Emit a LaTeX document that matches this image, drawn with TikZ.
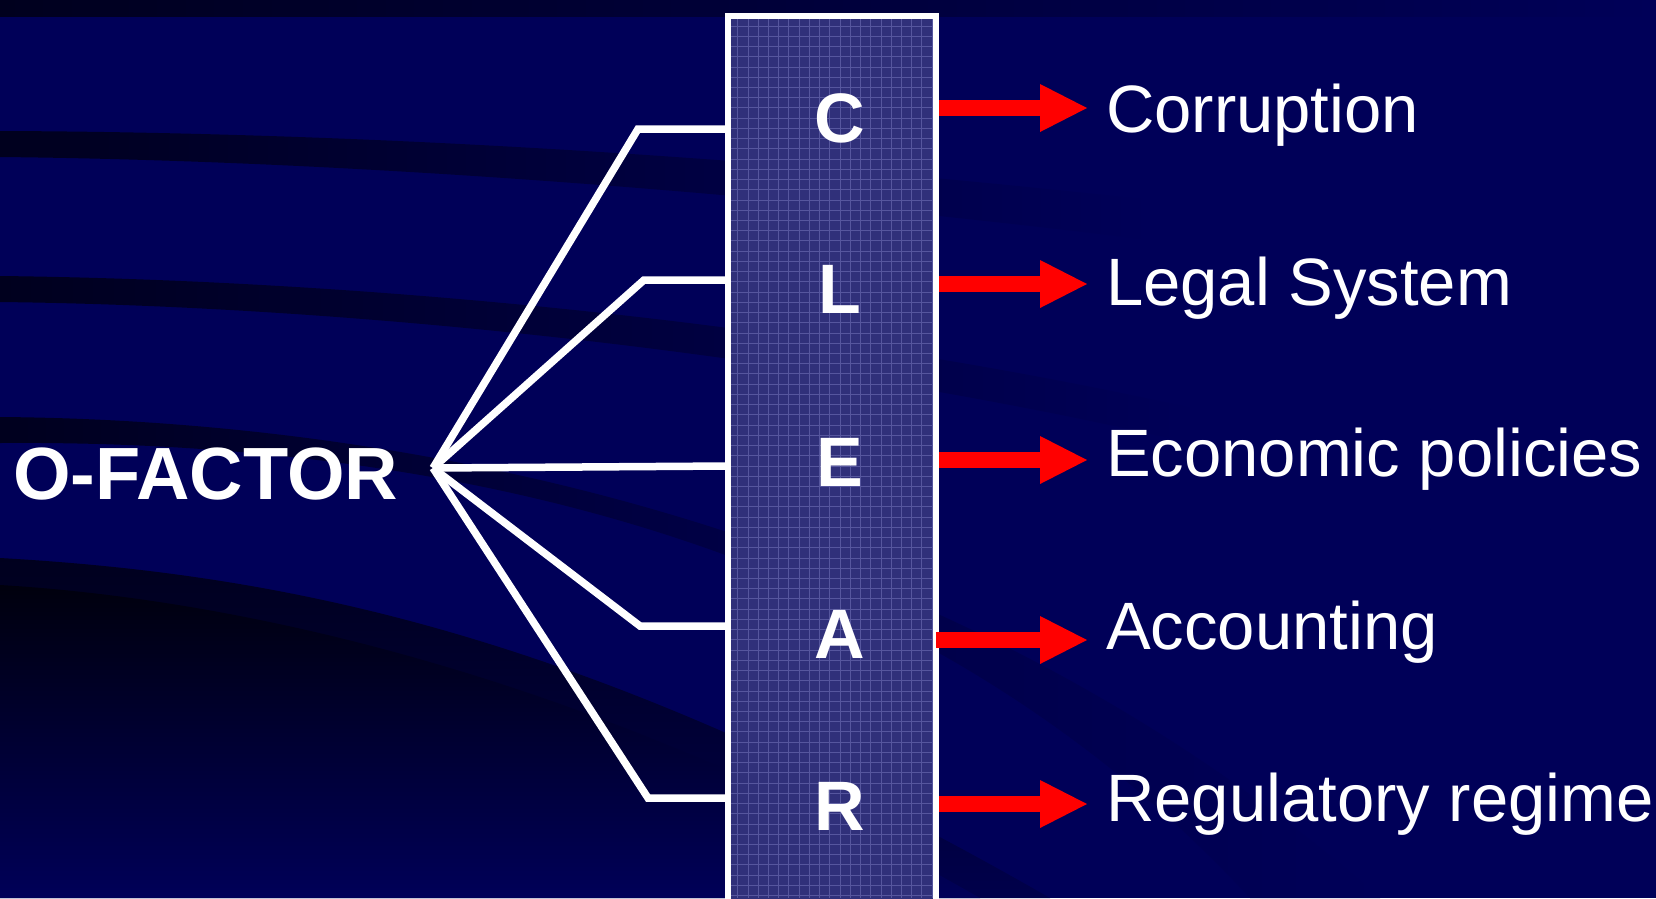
\documentclass[tikz,border=0pt]{standalone}
\usepackage{fontspec}
\setmainfont{Liberation Sans}
\usepackage{xcolor}
\usepackage{tikz}
\usetikzlibrary{calc, arrows.meta}

\definecolor{navy}{RGB}{0,0,88}
\definecolor{deepnavy}{RGB}{0,0,30}
\definecolor{boxfill}{RGB}{48,48,122}
\definecolor{gridline}{RGB}{86,86,158}

\begin{document}
\begin{tikzpicture}[x=1pt, y=-1pt,
		wire/.style={white, line width=7.5pt, line join=miter},
		redarrow/.style={red, line width=16pt, shorten >=19pt, -{Triangle[length=47pt, width=48pt, line width=0pt]}},
		lettertext/.style={anchor=base, inner sep=0pt, text=white, font=\fontsize{70}{84}\selectfont\bfseries},
		itemtext/.style={anchor=base west, inner sep=0pt, text=white, font=\fontsize{67}{80}\selectfont},
		factor/.style={anchor=base west, inner sep=0pt, text=white, font=\fontsize{74}{88}\selectfont\bfseries}]

					\useasboundingbox (0,0) rectangle (1656,898);
					\fill[navy] (0,0) rectangle (1656,898);
					\clip (0,0) rectangle (1656,898);

					\shade[left color=deepnavy, right color=navy] (0,0) rectangle (1656,16);
					\shade[left color=deepnavy, right color=navy]
						(0,131) .. controls (300,132) and (700,150) .. (1150,200)
						-- (1150,240) .. controls (700,185) and (300,160) .. (0,157) -- cycle;
					\shade[left color=deepnavy, right color=navy]
						(0,276) .. controls (350,280) and (800,320) .. (1200,410)
						-- (1200,445) .. controls (800,352) and (350,306) .. (0,302) -- cycle;
					\shade[left color=deepnavy, right color=navy, middle color=navy!65!deepnavy]
						(0,417) .. controls (400,420) and (950,520) .. (1380,898)
						-- (1250,898) .. controls (900,520) and (400,440) .. (0,443) -- cycle;
					\shade[top color=deepnavy, bottom color=navy!85!black]
						(0,558) .. controls (300,575) and (600,640) .. (1050,898) -- (0,898) -- cycle;
					\shade[top color=black!85!navy, bottom color=navy]
						(0,585) .. controls (250,600) and (600,680) .. (980,898) -- (0,898) -- cycle;

					\node[draw=white, line width=6pt, fill=boxfill, minimum width=208pt, minimum height=1000pt, inner sep=0pt, outer sep=0pt] (clear) at (832,516) {};

					\begin{scope}
						\clip (731,19) rectangle (933,898);
						\foreach \gx in {0,...,19}
							\draw[gridline, line width=0.8pt] (737.7+\gx*10.23,19) -- (737.7+\gx*10.23,898);
						\foreach \gy in {0,...,86}
							\draw[gridline, line width=0.8pt] (731,26+\gy*10.23) -- (933,26+\gy*10.23);
					\end{scope}

					\draw
						(13,499) node[factor] (ofactor) {O-FACTOR}
						(433,468) coordinate (hub);

					\draw
						(840,142) node[lettertext] (ltrC) {C}
						(840,313) node[lettertext] (ltrL) {L}
						(840,486) node[lettertext] (ltrE) {E}
						(840,658) node[lettertext] (ltrA) {A}
						(840,830) node[lettertext] (ltrR) {R};

					\draw
						(1106,132) node[itemtext] (lab1) {Corruption}
						(1106,305) node[itemtext] (lab2) {Legal System}
						(1106,476) node[itemtext] (lab3) {Economic policies}
						(1106,649) node[itemtext] (lab4) {Accounting}
						(1106,821) node[itemtext] (lab5) {Regulatory regime};

					\draw
						(638,129) coordinate (bend1)
						(644,280) coordinate (bend2)
						(728,466) coordinate (bend3)
						(640,626) coordinate (bend4)
						(648,798) coordinate (bend5);

					\draw[wire] (hub) -- (bend1) -- (bend1 -| clear.west);
					\draw[wire] (hub) -- (bend2) -- (bend2 -| clear.west);
					\draw[wire] (hub) -- (bend3 -| clear.west);
					\draw[wire] (hub) -- (bend4) -- (bend4 -| clear.west);
					\draw[wire] (hub) -- (bend5) -- (bend5 -| clear.west);

					\draw
						(939,108) coordinate (tail1)
						(939,284) coordinate (tail2)
						(939,460) coordinate (tail3)
						(936,640) coordinate (tail4)
						(939,804) coordinate (tail5);

					\draw[redarrow] (tail1) -- (tail1 -| lab1.west);
					\draw[redarrow] (tail2) -- (tail2 -| lab2.west);
					\draw[redarrow] (tail3) -- (tail3 -| lab3.west);
					\draw[redarrow] (tail4) -- (tail4 -| lab4.west);
					\draw[redarrow] (tail5) -- (tail5 -| lab5.west);
				\end{tikzpicture}
\end{document}
